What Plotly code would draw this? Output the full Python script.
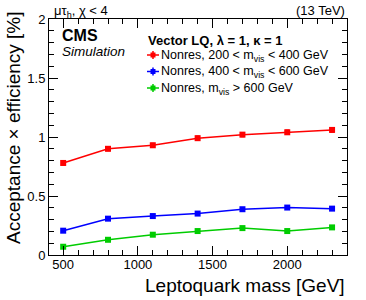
import plotly.graph_objects as go

mass = [500, 800, 1100, 1400, 1700, 2000, 2300]
eff_200_400 = [0.78, 0.90, 0.93, 0.99, 1.02, 1.04, 1.06]
err_200_400 = [0.015, 0.015, 0.015, 0.016, 0.016, 0.017, 0.017]
eff_400_600 = [0.206, 0.308, 0.330, 0.351, 0.388, 0.402, 0.393]
err_400_600 = [0.008, 0.009, 0.009, 0.010, 0.010, 0.011, 0.011]
eff_600 = [0.070, 0.129, 0.172, 0.203, 0.228, 0.203, 0.234]
err_600 = [0.006, 0.007, 0.008, 0.008, 0.009, 0.009, 0.009]

names = ["Nonres, 200 < m<sub>vis</sub> < 400 GeV",
         "Nonres, 400 < m<sub>vis</sub> < 600 GeV",
         "Nonres, m<sub>vis</sub> > 600 GeV"]
colors = ["#ff0000", "#0000ff", "#00cc00"]
legend_title = "<b>Vector LQ, λ = 1, κ = 1</b>"

FONT = "Liberation Sans, Arial, sans-serif"

fig = go.Figure()
for y, e, n, c in zip([eff_200_400, eff_400_600, eff_600],
                      [err_200_400, err_400_600, err_600], names, colors):
    fig.add_trace(go.Scatter(
        x=mass, y=y, name=n, mode="lines+markers", showlegend=False,
        line=dict(color=c, width=1.5),
        marker=dict(symbol="square", size=6, color=c),
        error_y=dict(type="data", array=e, color=c, thickness=1.5, width=2),
    ))

axis_common = dict(
    showgrid=False, zeroline=False, showline=True, linecolor="black",
    linewidth=1, mirror="allticks", ticks="inside", ticklen=9,
    tickcolor="black", tickfont=dict(family=FONT, size=13, color="black"),
    automargin=False,
)
fig.update_xaxes(range=[405, 2400], tickvals=[500, 1000, 1500, 2000],
                 ticklabelstandoff=-3,
                 minor=dict(dtick=100, tick0=0, ticks="inside", ticklen=5,
                            tickcolor="black"),
                 **axis_common)
fig.update_yaxes(range=[0, 2], tickvals=[0, 0.5, 1, 1.5, 2],
                 ticktext=["0", "0.5", "1", "1.5", "2"],
                 minor=dict(dtick=0.1, tick0=0, ticks="inside", ticklen=5,
                            tickcolor="black"),
                 **axis_common)

W, H = 366, 300
L, R, T, B = 49, 19, 19, 45
pw, ph = W - L - R, H - T - B


def px(xp):
    return (xp - L) / pw


def py(yp):
    return 1 - (yp - T) / ph


fig.update_layout(
    width=W, height=H,
    margin=dict(l=L, r=R, t=T, b=B, autoexpand=False),
    paper_bgcolor="white", plot_bgcolor="white",
    font=dict(family=FONT, color="black"),
    showlegend=False,
)

anns = [
    dict(text="μτ<sub>h</sub>, χ < 4", x=px(52), y=py(11), yanchor="middle",
         xanchor="left", font=dict(size=13)),
    dict(text="(13 TeV)", x=1.0, y=py(10), xanchor="right", yanchor="middle",
         font=dict(size=13)),
    dict(text="<b>CMS</b>", x=px(60), y=py(35), xanchor="left",
         yanchor="middle", font=dict(size=16)),
    dict(text="<i>Simulation</i>", x=px(60), y=py(52), xanchor="left",
         yanchor="middle", font=dict(size=13.5)),
    dict(text=legend_title, x=px(146), y=py(40), xanchor="left",
         yanchor="middle", font=dict(size=13)),
    dict(text="Leptoquark mass [GeV]", x=1.0, y=py(285), xanchor="right",
         yanchor="middle", font=dict(size=19)),
    dict(text="Acceptance × efficiency [%]", x=px(1), y=py(9), xanchor="left",
         yanchor="top", textangle=-90, font=dict(size=19)),
]

shapes = []
row_y = [56, 72.5, 89]
for n, c, yy in zip(names, colors, row_y):
    anns.append(dict(text=n, x=px(159), y=py(yy), xanchor="left",
                     yanchor="middle", font=dict(size=12.5)))
    shapes.append(dict(type="line", xref="paper", yref="paper",
                       x0=px(147), x1=px(159), y0=py(yy - 1), y1=py(yy - 1),
                       line=dict(color=c, width=1.5)))
    shapes.append(dict(type="line", xref="paper", yref="paper",
                       x0=px(153), x1=px(153), y0=py(yy - 5), y1=py(yy + 3),
                       line=dict(color=c, width=1.5)))
    shapes.append(dict(type="rect", xref="paper", yref="paper",
                       x0=px(150.5), x1=px(155.5), y0=py(yy - 3.5),
                       y1=py(yy + 1.5), fillcolor=c, line=dict(width=0)))

for a in anns:
    a.setdefault("xref", "paper")
    a.setdefault("yref", "paper")
    a["showarrow"] = False
fig.update_layout(annotations=anns, shapes=shapes)

fig.write_html("out.html", config={"displayModeBar": False},
               post_script="document.body.style.margin='0';"
                           "document.body.style.padding='0';")
